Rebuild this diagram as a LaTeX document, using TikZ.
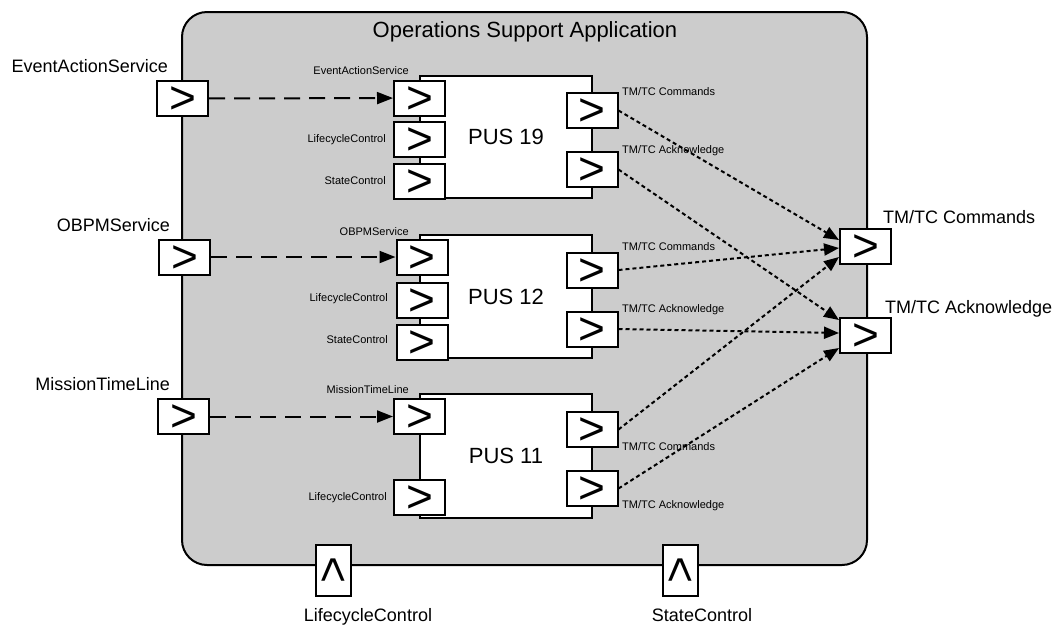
\documentclass[tikz,border=0pt]{standalone}
\usepackage{fontspec}
\setmainfont{Liberation Sans}
\usetikzlibrary{arrows.meta}
\definecolor{appgray}{HTML}{CCCCCC}
\newcommand{\gtsym}{\raisebox{-0.3325em}[0pt][0pt]{>}}
\begin{document}
\begin{tikzpicture}[x=1pt,y=-1pt,
  port/.style={draw=black, fill=white, line width=2pt, minimum width=51pt, minimum height=35pt, inner sep=0pt, font=\fontsize{46}{46}\selectfont},
  blk/.style={draw=black, fill=white, line width=2pt, inner sep=0pt},
  biglbl/.style={inner sep=0pt, font=\fontsize{18}{18}\selectfont, text height=13pt, text depth=0pt},
  smalllbl/.style={inner sep=0pt, font=\fontsize{11}{11}\selectfont, text height=7.9pt, text depth=0pt},
  titlelbl/.style={inner sep=0pt, font=\fontsize{22}{22}\selectfont, text height=15.8pt, text depth=0pt},
  dashedarrow/.style={line width=2pt, dash pattern=on 16pt off 9pt, -{Triangle[length=16pt,width=12pt]}},
  dottedarrow/.style={line width=2pt, dash pattern=on 4pt off 3pt, -{Triangle[length=15pt,width=12pt]}}
]
\useasboundingbox (0,0) rectangle (1055,625);

% application container
\node[draw=black, fill=appgray, line width=2pt, rounded corners=25pt, minimum width=685pt, minimum height=553pt, inner sep=0pt] (app) at (524.5,288.5) {};
\node[titlelbl] (title) at (525,30) {Operations Support Application};

% PUS blocks
\node[blk, minimum width=172pt, minimum height=122pt] (pus19) at (506,137) {};
\node[blk, minimum width=172pt, minimum height=123pt] (pus12) at (506,296.5) {};
\node[blk, minimum width=172pt, minimum height=124pt] (pus11) at (506,456) {};
\node[titlelbl] (pus19t) at (506,137) {PUS 19};
\node[titlelbl] (pus12t) at (506,296.5) {PUS 12};
\node[titlelbl] (pus11t) at (506,456) {PUS 11};

% external left ports
\node[port] (eas) at (182.5,98.5) {\gtsym};
\node[port] (obpm) at (184.5,257) {\gtsym};
\node[port] (mtl) at (183.5,416.5) {\gtsym};

% PUS 19 ports
\node[port] (p19a) at (419.5,98) {\gtsym};
\node[port] (p19b) at (419.5,139.5) {\gtsym};
\node[port] (p19c) at (419.5,181) {\gtsym};
\node[port] (p19cmd) at (592,110.5) {\gtsym};
\node[port] (p19ack) at (592,169.5) {\gtsym};

% PUS 12 ports
\node[port] (p12a) at (422,257) {\gtsym};
\node[port] (p12b) at (422,300) {\gtsym};
\node[port] (p12c) at (422,342) {\gtsym};
\node[port] (p12cmd) at (592,270) {\gtsym};
\node[port] (p12ack) at (592,329) {\gtsym};

% PUS 11 ports
\node[port] (p11a) at (419.5,416.5) {\gtsym};
\node[port] (p11b) at (419.5,497) {\gtsym};
\node[port] (p11cmd) at (592,429.5) {\gtsym};
\node[port] (p11ack) at (592,488.5) {\gtsym};

% external right ports
\node[port] (extcmd) at (865.5,246.5) {\gtsym};
\node[port] (extack) at (865.5,335.5) {\gtsym};

% bottom ports
\node[port, rotate=90] (lc) at (333,570.5) {\gtsym};
\node[port, rotate=90] (sc) at (680,570.5) {\gtsym};

% big labels
\node[biglbl, anchor=east] (leas) at (168,66) {EventActionService};
\node[biglbl, anchor=east] (lobpm) at (170,225) {OBPMService};
\node[biglbl, anchor=east] (lmtl) at (170,384) {MissionTimeLine};
\node[biglbl, anchor=west] (lextcmd) at (883,217) {TM/TC Commands};
\node[biglbl, anchor=west] (lextack) at (885,307) {TM/TC Acknowledge};
\node[biglbl] (llc) at (368,615) {LifecycleControl};
\node[biglbl] (lsc) at (702,615) {StateControl};

% small labels PUS 19
\node[smalllbl, anchor=east] (l19a) at (409,71) {EventActionService};
\node[smalllbl, anchor=east] (l19b) at (386,139) {LifecycleControl};
\node[smalllbl, anchor=east] (l19c) at (386,181) {StateControl};
\node[smalllbl, anchor=west] (l19cmd) at (622,92) {TM/TC Commands};
\node[smalllbl, anchor=west] (l19ack) at (622,150) {TM/TC Acknowledge};

% small labels PUS 12
\node[smalllbl, anchor=east] (l12a) at (409,232) {OBPMService};
\node[smalllbl, anchor=east] (l12b) at (388,298) {LifecycleControl};
\node[smalllbl, anchor=east] (l12c) at (388,340) {StateControl};
\node[smalllbl, anchor=west] (l12cmd) at (622,247) {TM/TC Commands};
\node[smalllbl, anchor=west] (l12ack) at (622,309) {TM/TC Acknowledge};

% small labels PUS 11
\node[smalllbl, anchor=east] (l11a) at (409,390) {MissionTimeLine};
\node[smalllbl, anchor=east] (l11b) at (387,497) {LifecycleControl};
\node[smalllbl, anchor=west] (l11cmd) at (622,447) {TM/TC Commands};
\node[smalllbl, anchor=west] (l11ack) at (622,505) {TM/TC Acknowledge};

% dashed connectors
\draw[dashedarrow] (eas) -- (p19a);
\draw[dashedarrow] (obpm) -- (p12a);
\draw[dashedarrow] (mtl) -- (p11a);

% dotted connectors
\draw[dottedarrow] (p19cmd.east) -- ([yshift=6.5pt]extcmd.west);
\draw[dottedarrow] (p12cmd.east) -- ([yshift=-1.5pt]extcmd.west);
\draw[dottedarrow] (p11cmd.east) -- ([yshift=-10.5pt]extcmd.west);
\draw[dottedarrow] (p19ack.east) -- ([yshift=15.5pt]extack.west);
\draw[dottedarrow] (p12ack.east) -- ([yshift=2.5pt]extack.west);
\draw[dottedarrow] (p11ack.east) -- ([yshift=-12.5pt]extack.west);
\end{tikzpicture}
\end{document}
